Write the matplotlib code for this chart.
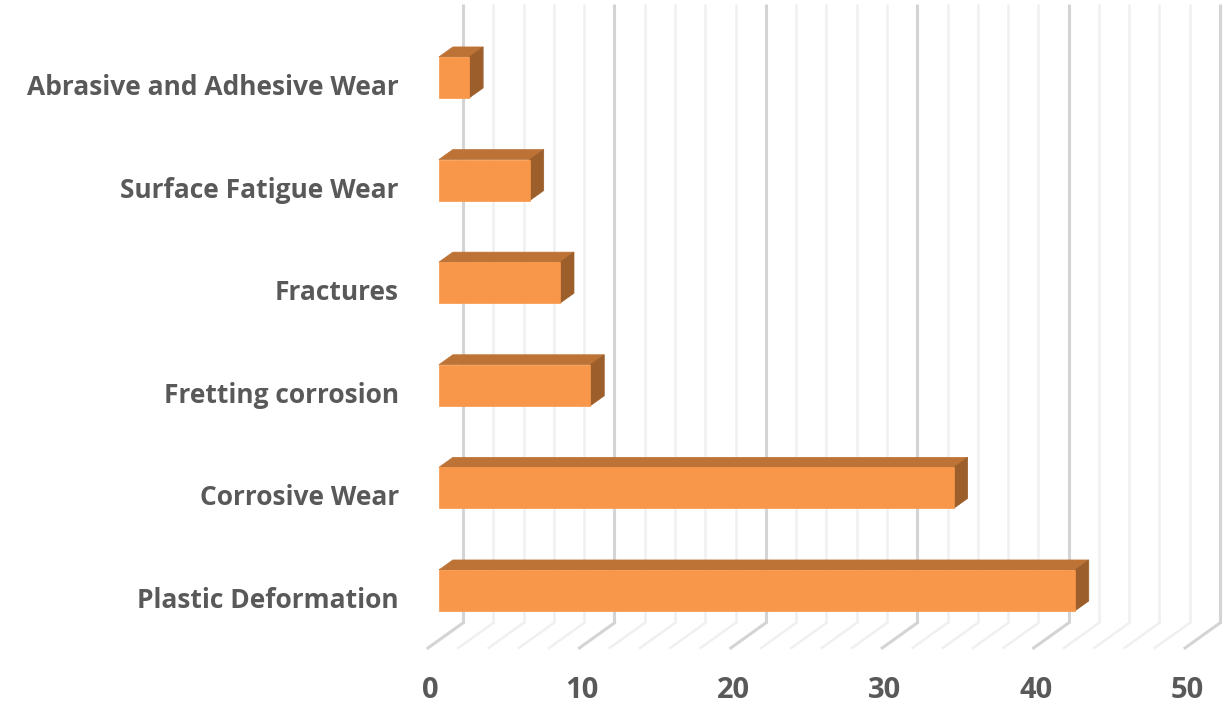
import matplotlib
matplotlib.use("Agg")
import matplotlib.pyplot as plt
from matplotlib.patches import Polygon

# failure modes, bottom to top
categories = ["Plastic Deformation", "Corrosive Wear", "Fretting corrosion",
              "Fractures", "Surface Fatigue Wear", "Abrasive and Adhesive Wear"]
values = [42, 34, 10, 8, 6, 2]
ticks = [0, 10, 20, 30, 40, 50]

FRONT = "#F8974A"
TOP = "#BD7336"
SIDE = "#9C5F2C"
TEXT = "#595959"

# oblique projection: depth 0 is the front of the floor, depth 1 the back wall
DX = 2.31    # horizontal shift over the full depth (value units)
DY = 0.244   # vertical shift over the full depth (category units)
D0, D1 = 0.31, 0.71  # bar front / back depth
HALF = 0.2           # half bar height
FLOOR = -0.56
WALL_TOP = 5.47


def proj(v, level, d):
    return (v + d * DX, level + d * DY)


fig = plt.figure(figsize=(12.27, 7.05), dpi=100)
ax = fig.add_axes([0, 0, 1, 1])
ax.set_xlim(-28.27, 52.77)
ax.set_ylim(-1.116, 5.755)
ax.axis("off")

# back wall gridlines and floor lines
for g in range(0, 51, 2):
    major = g % 10 == 0
    col = "#d4d4d4" if major else "#f0f0f0"
    lw = 2.2 if major else 1.8
    x0, y0 = proj(g, FLOOR, 1)
    ax.plot([x0, x0], [y0, WALL_TOP + DY], color=col, lw=lw, zorder=1,
            solid_capstyle="butt")
    xa, ya = proj(g, FLOOR, 0)
    ax.plot([xa, x0], [ya, y0], color=col, lw=lw, zorder=1)

# 3D-looking bars
for i, v in enumerate(values):
    lev = i - D0 * DY
    lo, hi = lev - HALF, lev + HALF
    front = [proj(0, lo, D0), proj(v, lo, D0), proj(v, hi, D0), proj(0, hi, D0)]
    top = [proj(0, hi, D0), proj(v, hi, D0), proj(v, hi, D1), proj(0, hi, D1)]
    side = [proj(v, lo, D0), proj(v, lo, D1), proj(v, hi, D1), proj(v, hi, D0)]
    for pts, c in ((top, TOP), (side, SIDE), (front, FRONT)):
        ax.add_patch(Polygon(pts, closed=True, facecolor=c, edgecolor=c,
                             lw=0.5, zorder=3))
    ax.text(-1.92, i - 0.17, categories[i], ha="right", va="baseline",
            fontsize=19, fontweight="bold", color=TEXT, family="Open Sans")

for t in ticks:
    x, _ = proj(t, FLOOR, 0)
    ax.text(x + 0.15, -0.97, str(t), ha="center", va="center",
            fontsize=21, fontweight="bold", color=TEXT, family="Open Sans")

fig.savefig("out.png", dpi=100)
